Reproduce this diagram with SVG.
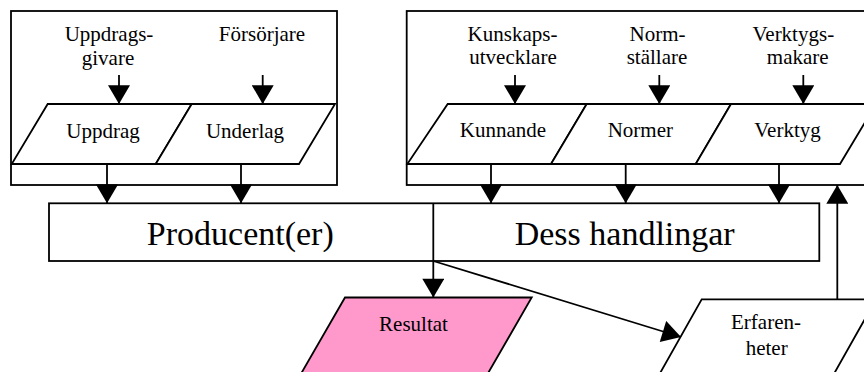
<svg xmlns="http://www.w3.org/2000/svg" width="864" height="372" viewBox="0 0 864 372">
  <style>
    .box { fill: #ffffff; stroke: #000000; stroke-width: 1.8; }
    .line { fill: none; stroke: #000000; stroke-width: 1.8; }
    .arrow { fill: none; stroke: #000000; stroke-width: 1.8; marker-end: url(#head); }
    .t { font-family: "Liberation Serif", "Times New Roman", serif; font-size: 21px; fill: #000000; text-anchor: middle; }
    .big { font-family: "Liberation Serif", "Times New Roman", serif; font-size: 34px; fill: #000000; text-anchor: middle; }
  </style>
  <defs>
    <marker id="head" markerUnits="userSpaceOnUse" markerWidth="20" markerHeight="22" refX="18" refY="10.5" orient="auto" viewBox="0 0 18 21">
      <path d="M0,0 L18,10.5 L0,21 Z" fill="#000000"/>
    </marker>
  </defs>
  <rect width="864" height="372" fill="#ffffff"/>

  <!-- commission and basis group -->
  <g id="group-left">
    <rect class="box" x="11" y="11" width="326" height="174"/>
    <text class="t" x="109" y="41">Uppdrags-</text>
    <text class="t" x="108" y="65">givare</text>
    <text class="t" x="262" y="41">Försörjare</text>
  </g>
  <g id="uppdrag">
    <polygon class="box" points="47.7,104 191.7,104 155.7,164 11.7,164"/>
    <text class="t" x="103" y="138">Uppdrag</text>
  </g>
  <g id="underlag">
    <polygon class="box" points="191.7,104 335,104 299,164 155.7,164"/>
    <text class="t" x="245" y="138">Underlag</text>
  </g>

  <!-- knowledge, norms and tools group -->
  <g id="group-right">
    <rect class="box" x="406.7" y="11" width="480" height="174"/>
    <text class="t" x="512.5" y="41">Kunskaps-</text>
    <text class="t" x="513" y="64">utvecklare</text>
    <text class="t" x="657.5" y="41">Norm-</text>
    <text class="t" x="657" y="64">ställare</text>
    <text class="t" x="793.3" y="41">Verktygs-</text>
    <text class="t" x="797.7" y="64">makare</text>
  </g>
  <g id="kunnande">
    <polygon class="box" points="447.7,104 586.7,104 551,164 407.3,164"/>
    <text class="t" x="503" y="137">Kunnande</text>
  </g>
  <g id="normer">
    <polygon class="box" points="586.7,104 731,104 695.7,164 551,164"/>
    <text class="t" x="640.3" y="137">Normer</text>
  </g>
  <g id="verktyg">
    <polygon class="box" points="731,104 876,104 840,164 695.7,164"/>
    <text class="t" x="787.5" y="137">Verktyg</text>
  </g>

  <!-- producer and actions -->
  <g id="producent">
    <rect class="box" x="49" y="203.3" width="770.3" height="57.7"/>
    <text class="big" x="240.3" y="245">Producent(er)</text>
    <text class="big" x="624.7" y="245">Dess handlingar</text>
  </g>

  <!-- result -->
  <g id="resultat">
    <polygon points="345,297.5 531.7,297.5 484.1,380 297.4,380" fill="#ff99cc" stroke="#000000" stroke-width="1.8"/>
    <text class="t" x="413.5" y="331">Resultat</text>
  </g>

  <!-- experiences -->
  <g id="erfarenheter">
    <polygon class="box" points="701.7,299.3 876,299.3 830.5,380 656.2,380"/>
    <text class="t" x="766" y="329">Erfaren-</text>
    <text class="t" x="766.7" y="355">heter</text>
  </g>

  <!-- connectors -->
  <g id="connectors">
    <line class="arrow" x1="119" y1="75" x2="119" y2="104"/>
    <line class="arrow" x1="262.7" y1="75" x2="262.7" y2="104"/>
    <line class="arrow" x1="515" y1="75" x2="515" y2="104"/>
    <line class="arrow" x1="659.3" y1="75" x2="659.3" y2="104"/>
    <line class="arrow" x1="803.3" y1="75" x2="803.3" y2="104"/>

    <line class="arrow" x1="107" y1="164" x2="107" y2="203.3"/>
    <line class="arrow" x1="241" y1="164" x2="241" y2="203.3"/>
    <line class="arrow" x1="491" y1="164" x2="491" y2="203.3"/>
    <line class="arrow" x1="625.7" y1="164" x2="625.7" y2="203.3"/>
    <line class="arrow" x1="779" y1="164" x2="779" y2="203.3"/>

    <line class="arrow" x1="433.3" y1="203.3" x2="433.3" y2="297.5"/>
    <line class="arrow" x1="433.3" y1="261" x2="681" y2="337"/>
    <line class="arrow" x1="837.3" y1="299.3" x2="837.3" y2="185"/>
  </g>
</svg>
